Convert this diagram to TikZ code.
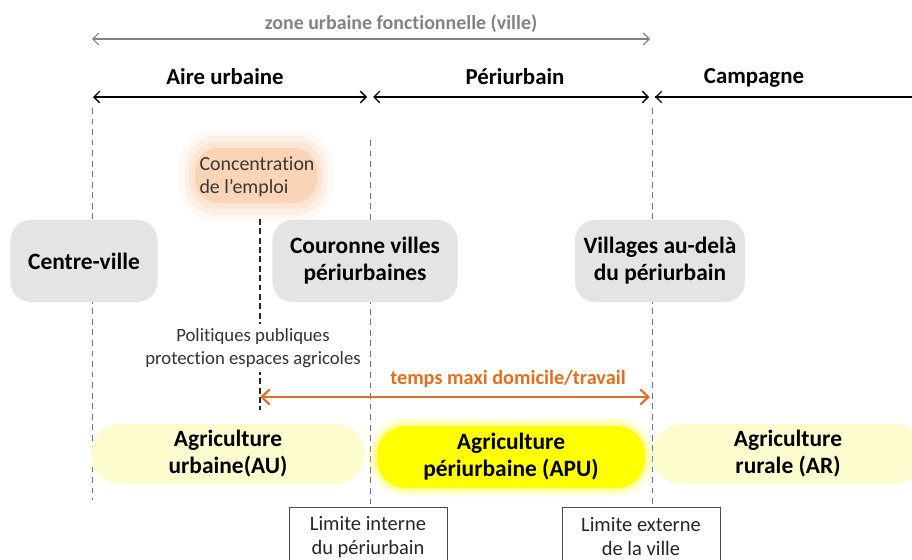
\documentclass[tikz,border=0pt]{standalone}
\usepackage{fontspec}
\setmainfont{Carlito}[Ligatures={TeX,NoCommon}]
\usetikzlibrary{arrows.meta}

\definecolor{boxgray}{RGB}{228,228,228}
\definecolor{paleyellow}{RGB}{252,252,206}
\definecolor{apuyellow}{RGB}{255,255,0}
\definecolor{peach}{RGB}{250,212,182}
\definecolor{darkorange}{RGB}{226,110,30}
\definecolor{zonegray}{RGB}{130,130,130}

\tikzset{
  lieu/.style={fill=boxgray, rounded corners=0.6cm, minimum height=2.46cm, align=center,
    font=\fontsize{20}{23}\selectfont\bfseries, inner sep=0pt},
  agri/.style={fill=paleyellow, rounded corners=0.85cm, minimum height=1.8cm, align=center,
    font=\fontsize{20}{23}\selectfont\bfseries, inner sep=0pt},
  limite/.style={draw=black!70, line width=0.8pt, minimum width=4.74cm, minimum height=1.8cm,
    align=center, font=\fontsize{17.5}{20.5}\selectfont, text=black!85, inner sep=0pt},
  titre/.style={font=\fontsize{19.5}{22}\selectfont\bfseries},
  frontiere/.style={dashed, dash pattern=on 5pt off 4pt, black!55, line width=0.6pt},
  fleche/.style={{Straight Barb[length=5pt,width=10pt]}-{Straight Barb[length=5pt,width=10pt]}, line width=1.1pt},
}

\begin{document}
\begin{tikzpicture}[x=0.03cm, y=-0.03cm]
\useasboundingbox (0,0) rectangle (912,560);

%limites en bas
\node[limite] (lint) at (368,537) {Limite interne\\du périurbain};
\node[limite] (lext) at (641,537) {Limite externe\\de la ville};

%frontieres
\coordinate (f1haut) at (92,108);
\coordinate (f1bas) at (92,500);
\coordinate (f2haut) at (370,140);
\coordinate (f3haut) at (652,108);
\draw[frontiere] (f1haut) -- (f1bas);
\draw[frontiere] (f2haut) -- (f2haut |- lint.north);
\draw[frontiere] (f3haut) -- (f3haut |- lext.north);

%zone urbaine fonctionnelle
\node[font=\fontsize{17}{20}\selectfont\bfseries, text=zonegray] (zone) at (401,24) {zone urbaine fonctionnelle (ville)};
\coordinate (zg) at (92,39);
\coordinate (zd) at (650,39);
\draw[fleche, zonegray, line width=1pt] (zg) -- (zd);

%aire, periurbain, campagne
\node[titre] (aire) at (225,77) {Aire urbaine};
\node[titre] (peri) at (515,77) {Périurbain};
\node[titre] (camp) at (754,78) {Campagne};
\coordinate (a1) at (93,97);
\coordinate (a2) at (367,97);
\coordinate (p1) at (373,97);
\coordinate (p2) at (649,97);
\coordinate (c1) at (655,97);
\coordinate (c2) at (915,97);
\draw[fleche] (a1) -- (a2);
\draw[fleche] (p1) -- (p2);
\draw[fleche, -] (c2) -- (c1);
\draw[{Straight Barb[length=5pt,width=10pt]}-, line width=1.1pt] (c1) -- ++(1,0);

%concentration de l'emploi
\fill[peach, opacity=0.15, rounded corners=1.1cm] (179,130) rectangle (333,221);
\fill[peach, opacity=0.25, rounded corners=0.95cm] (185,136) rectangle (327,215);
\fill[peach, opacity=0.4, rounded corners=0.8cm] (190,142) rectangle (322,209);
\fill[peach, rounded corners=0.7cm] (195,148) rectangle (317,203);
\node[align=left, font=\fontsize{17}{20}\selectfont, text=black!78] (emploi) at (257,177) {Concentration\\de l'emploi};

%lieux
\node[lieu, minimum width=4.41cm] (centre) at (84,261) {Centre-ville};
\node[lieu, minimum width=5.55cm] (couronne) at (365,261) {Couronne villes\\périurbaines};
\node[lieu, minimum width=5.1cm] (villages) at (660,261) {Villages au-delà\\du périurbain};

%politiques publiques
\coordinate (ph) at (260,219);
\coordinate (pb) at (260,410);
\draw[dashed, dash pattern=on 5pt off 3pt, black!85, line width=1.2pt] (ph) -- (pb);
\node[fill=white, align=center, inner xsep=1pt, inner ysep=4pt, font=\fontsize{16}{19.5}\selectfont, text=black!80] (politiques) at (253,348) {Politiques publiques\\protection espaces agricoles};

%temps maxi
\node[font=\fontsize{17.3}{20}\selectfont\bfseries, text=darkorange] (temps) at (508,379) {temps maxi domicile/travail};
\coordinate (t1) at (260,397);
\coordinate (t2) at (650,397);
\draw[{Straight Barb[length=7pt,width=13pt]}-{Straight Barb[length=7pt,width=13pt]}, darkorange, line width=1.8pt] (t1) -- (t2);

%agricultures
\fill[apuyellow, opacity=0.15, rounded corners=1.1cm] (369,418) rectangle (653,496);
\fill[apuyellow, opacity=0.25, rounded corners=1cm] (373,422) rectangle (649,492);
\node[agri, minimum width=8.19cm] (au) at (228,454) {Agriculture\\urbaine(AU)};
\node[agri, fill=apuyellow, minimum width=8.04cm, minimum height=1.86cm] (apu) at (511,457) {Agriculture\\périurbaine (APU)};
\node[agri, minimum width=8.1cm] (ar) at (788,454) {Agriculture\\rurale (AR)};
\end{tikzpicture}
\end{document}
